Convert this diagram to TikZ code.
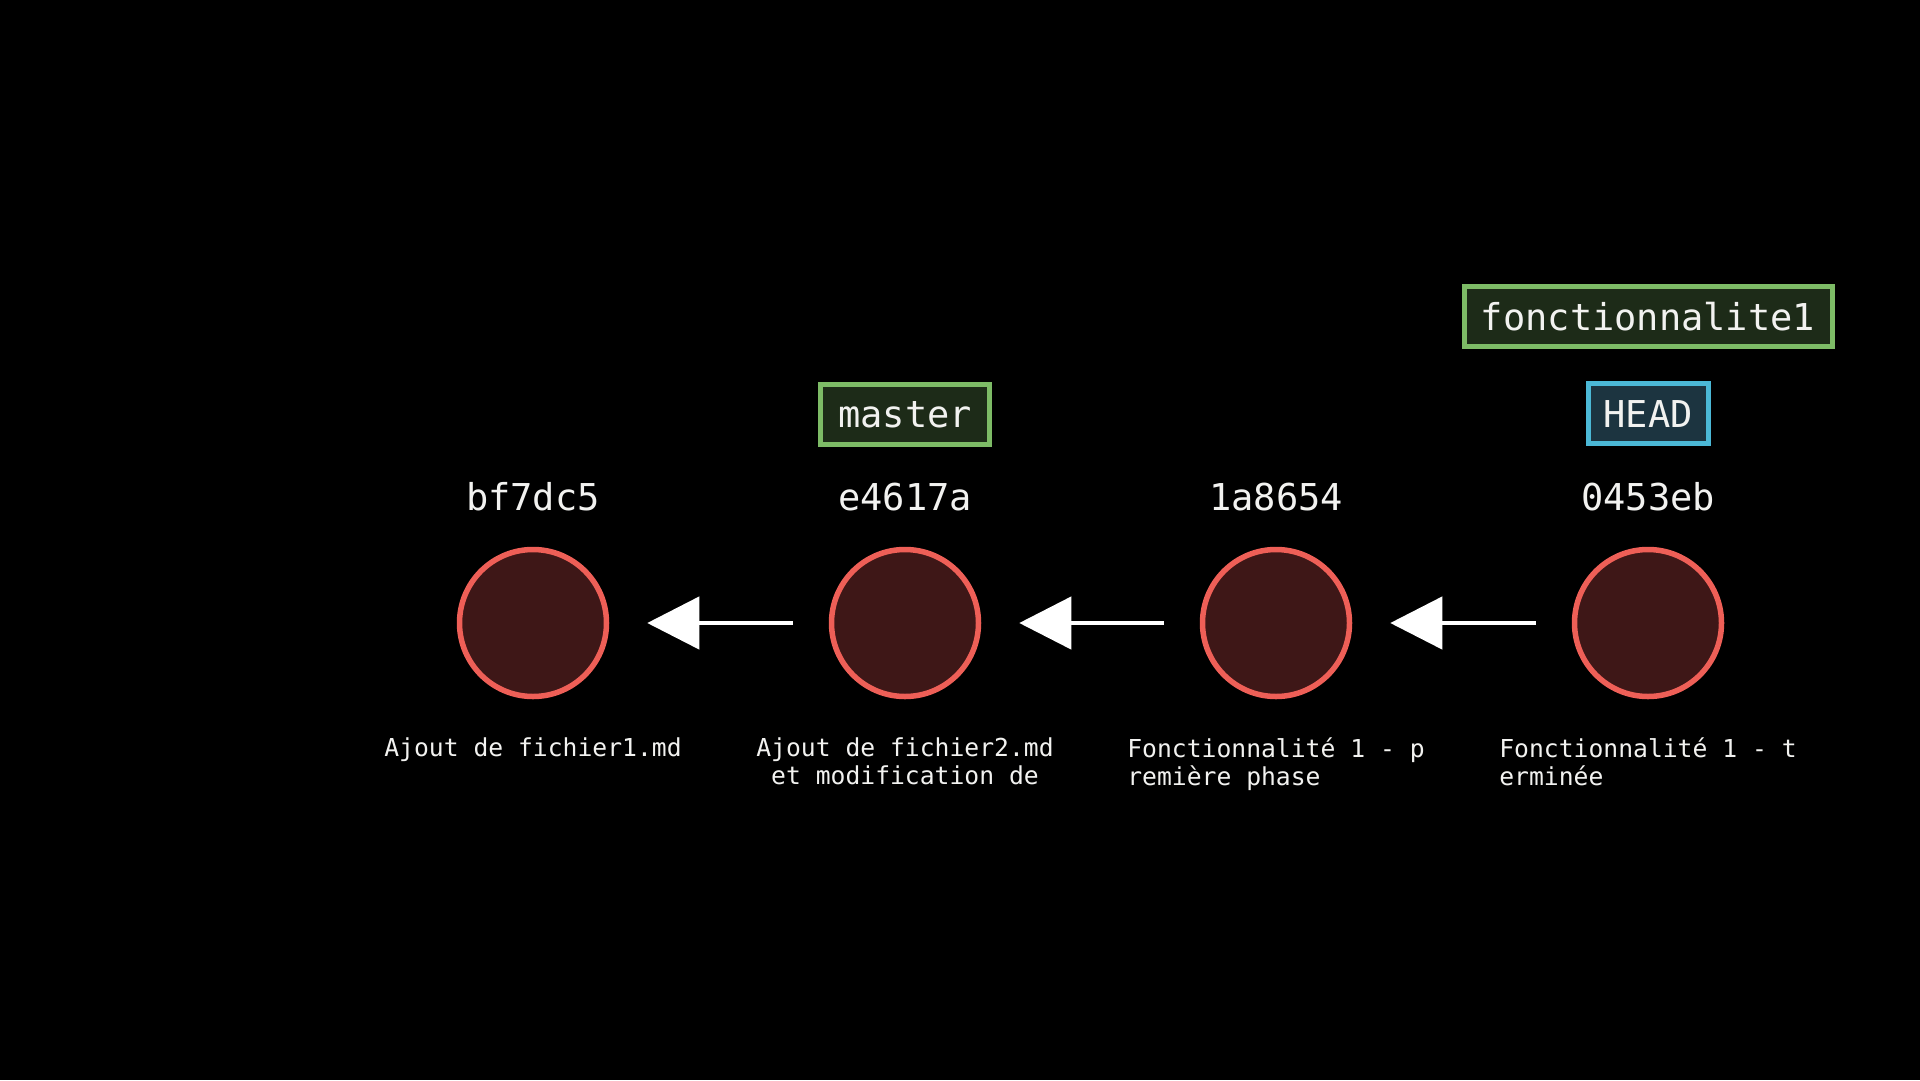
\documentclass[tikz,border=0pt]{standalone}
\usepackage{fontspec}
\setmonofont{DejaVu Sans Mono}
\usetikzlibrary{arrows.meta}
\definecolor{cfill}{HTML}{3E1717}
\definecolor{cline}{HTML}{EE5F57}
\definecolor{gline}{HTML}{7DBB66}
\definecolor{gfill}{HTML}{1D2B18}
\definecolor{bline}{HTML}{4BB8D6}
\definecolor{bfill}{HTML}{1C3440}
\definecolor{txt}{HTML}{F2F2F0}
\tikzset{
  commit/.style={circle, draw=cline, fill=cfill, line width=5.5pt, minimum size=147pt, inner sep=0pt},
  hash/.style={anchor=base, text=txt, font=\ttfamily\fontsize{37}{40}\selectfont, inner sep=0pt},
  msg/.style={anchor=north, text=txt, font=\ttfamily\fontsize{24.7}{28}\selectfont, inner sep=0pt},
  branch/.style={draw=gline, fill=gfill, line width=5pt, inner sep=0pt, text=txt,
    font=\ttfamily\fontsize{37}{40}\selectfont, text height=27pt, text depth=0pt, minimum height=60pt},
  headbox/.style={draw=bline, fill=bfill, line width=5pt, inner sep=0pt, text=txt,
    font=\ttfamily\fontsize{37}{40}\selectfont, text height=27pt, text depth=0pt, minimum height=60pt},
  parent/.style={draw=white, line width=4.5pt, -{Triangle[length=52pt,width=52pt]}, shorten >=38pt, shorten <=36pt}
}
\begin{document}
\begin{tikzpicture}[x=1pt,y=-1pt]
\fill[black] (0,0) rectangle (1920,1080);
\useasboundingbox (0,0) rectangle (1920,1080);
\node[commit] (c1) at (533,623) {};
\node[commit] (c2) at (905,623) {};
\node[commit] (c3) at (1276,623) {};
\node[commit] (c4) at (1648,623) {};
\draw[parent] (c2) -- (c1);
\draw[parent] (c3) -- (c2);
\draw[parent] (c4) -- (c3);
\node[hash] (h1) at (533,510) {bf7dc5};
\node[hash] (h2) at (905,510) {e4617a};
\node[hash] (h3) at (1276,510) {1a8654};
\node[hash] (h4) at (1648,510) {0453eb};
\node[msg, align=center] (m1) at (533,738) {Ajout de fichier1.md};
\node[msg, align=center] (m2) at (905,738) {Ajout de fichier2.md\\et modification de};
\node[msg, align=left] (m3) at (1276,738) {Fonctionnalité 1 - p\\remière phase};
\node[msg, align=left] (m4) at (1648,738) {Fonctionnalité 1 - t\\erminée};
\node[branch, minimum width=169pt] (master) at (905,414) {master};
\node[headbox, minimum width=120pt] (head) at (1648,413.5) {HEAD};
\node[branch, minimum width=368pt] (feat) at (1648,316.5) {fonctionnalite1};
\end{tikzpicture}
\end{document}
